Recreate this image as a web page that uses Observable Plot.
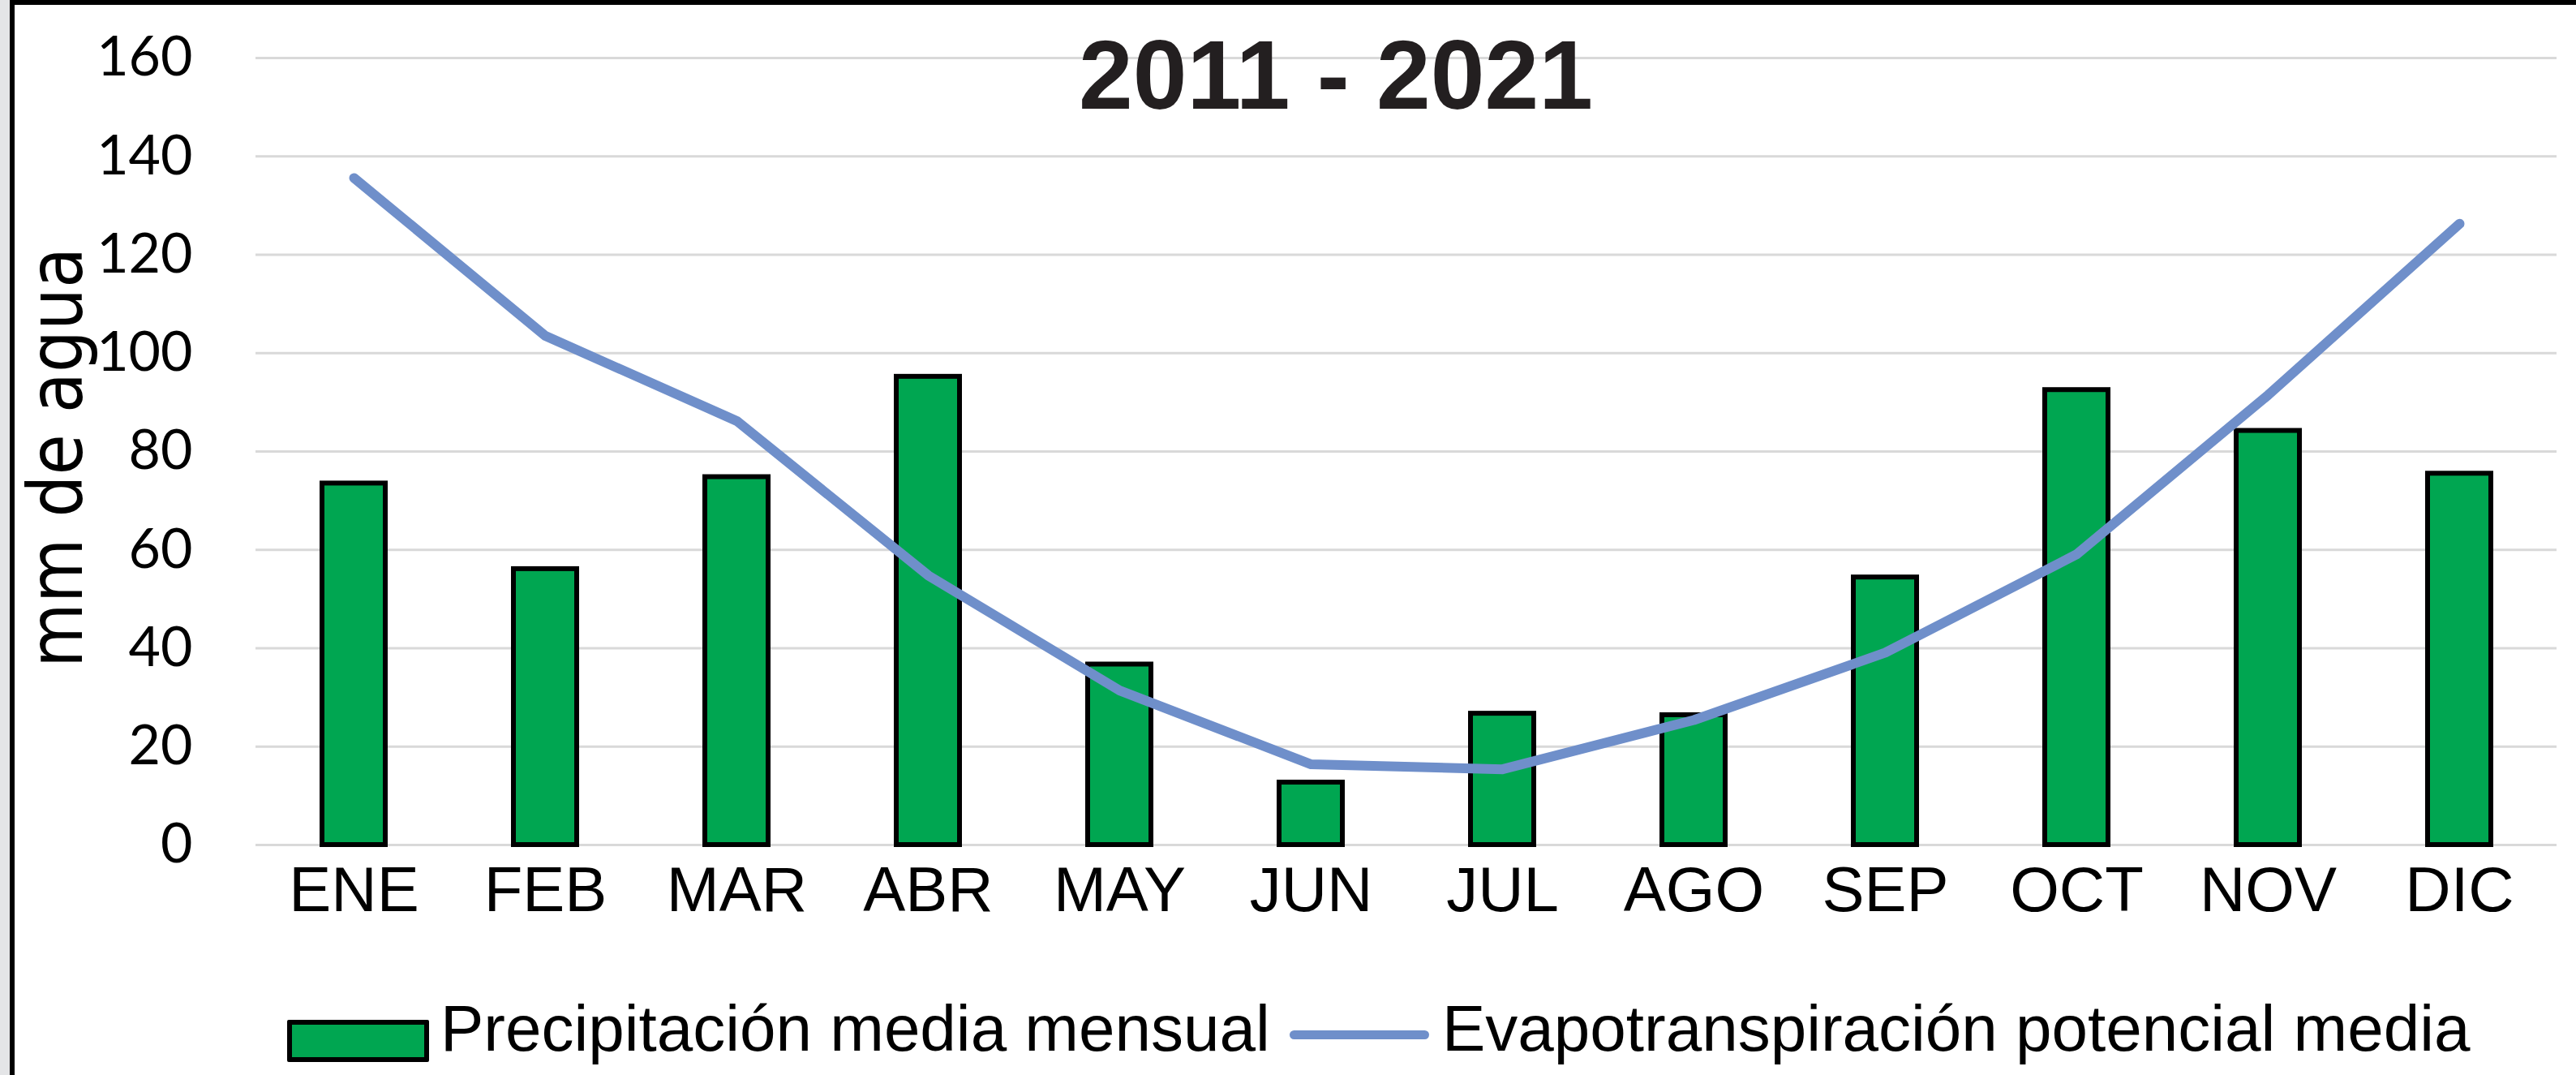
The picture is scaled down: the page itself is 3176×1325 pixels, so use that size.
<!DOCTYPE html>
<html>
<head>
<meta charset="utf-8">
<script src="https://cdn.jsdelivr.net/npm/d3@7"></script>
<script src="https://cdn.jsdelivr.net/npm/@observablehq/plot@0.6"></script>
<style>
  html, body { margin: 0; padding: 0; background: #fff; }
  #page { position: relative; width: 3176px; height: 1325px; overflow: hidden; background: #fff; }
  #chart { position: absolute; left: 0; top: 0; }
  .strip { position: absolute; left: 0; top: 0; width: 12px; height: 1325px; background: #e4e5e7; }
  .bl { position: absolute; left: 12px; top: 0; width: 6px; height: 1325px; background: #000; }
  .bt { position: absolute; left: 12px; top: 0; width: 3164px; height: 6px; background: #000; }
  #title { position: absolute; left: 1647px; top: 152px; transform: translate(-50%, -100%);
           font-family: "Liberation Sans", Arial, sans-serif; font-weight: bold; font-size: 120px;
           line-height: 1; color: #231f20; white-space: nowrap; }
  #ylabel { position: absolute; left: 70px; top: 564px; transform: translate(-50%, -50%) rotate(-90deg) scale(0.89, 1);
            font-family: "DejaVu Sans", sans-serif; font-size: 92px; line-height: 1; color: #000; white-space: nowrap; }
  .leg { position: absolute; font-family: "Liberation Sans", Arial, sans-serif; font-size: 80px; line-height: 1; color: #000; white-space: nowrap; }
  .sw-bar { position: absolute; left: 354px; top: 1257px; width: 163px; height: 40px; background: #00a651; border: 6px solid #000; border-radius: 2px; }
  .sw-line { position: absolute; left: 1590px; top: 1270px; width: 172px; height: 11px; background: #6f8fca; border-radius: 6px; }
</style>
</head>
<body>
<div id="page">
  <div id="chart"></div>
  <div id="title"></div>
  <div id="ylabel"></div>
  <div class="sw-bar"></div>
  <div class="leg" id="leg1" style="left:543px; top:1308px; transform: translateY(-100%);"></div>
  <div class="sw-line"></div>
  <div class="leg" id="leg2" style="left:1778px; top:1308px; transform: translateY(-100%);"></div>
  <div class="strip"></div>
  <div class="bl"></div>
  <div class="bt"></div>
</div>
<script>
// ---- data ----
const months = ["ENE", "FEB", "MAR", "ABR", "MAY", "JUN", "JUL", "AGO", "SEP", "OCT", "NOV", "DIC"];
const precipitacion = [73.5, 56.1, 74.8, 95.2, 36.7, 12.7, 26.7, 26.4, 54.4, 92.5, 84.2, 75.5];
const evapotranspiracion = [135.6, 103.5, 86.2, 54.8, 31.4, 16.4, 15.4, 25.4, 39.1, 59.1, 91.5, 126.3];
const yTicks = [0, 20, 40, 60, 80, 100, 120, 140, 160];
const titleText = "2011 - 2021";
const yLabel = "mm de agua";
const seriesNames = ["Precipitación media mensual", "Evapotranspiración potencial media"];

const data = months.map((m, i) => ({month: m, precip: precipitacion[i], etp: evapotranspiracion[i]}));

const chart = Plot.plot({
  width: 3176,
  height: 1160,
  marginTop: 71,
  marginBottom: 119,
  marginLeft: 315,
  marginRight: 24,
  style: {background: "transparent", color: "#000", overflow: "visible"},
  x: {domain: months, paddingInner: 0.67, paddingOuter: 0.335, label: null},
  y: {domain: [0, 160], label: null},
  marks: [
    Plot.gridY(yTicks, {stroke: "#d9d9d9", strokeOpacity: 1, strokeWidth: 3}),
    Plot.barY(data, {x: "month", y: "precip", fill: "#00a651", stroke: "#000", strokeWidth: 6}),
    Plot.lineY(data, {x: "month", y: "etp", stroke: "#6f8fca", strokeWidth: 12, strokeLinecap: "round", strokeLinejoin: "round"}),
    Plot.axisX({tickSize: 0, tickPadding: 26, fontSize: 78, fontFamily: "Liberation Sans, Arial, sans-serif", label: null}),
    Plot.axisY(yTicks, {tickSize: 0, tickPadding: 78, fontSize: 68, fontFamily: "Lato, sans-serif", label: null})
  ]
});
document.getElementById("chart").appendChild(chart);
document.getElementById("title").textContent = titleText;
document.getElementById("ylabel").textContent = yLabel;
document.getElementById("leg1").textContent = seriesNames[0];
document.getElementById("leg2").textContent = seriesNames[1];
</script>
</body>
</html>
